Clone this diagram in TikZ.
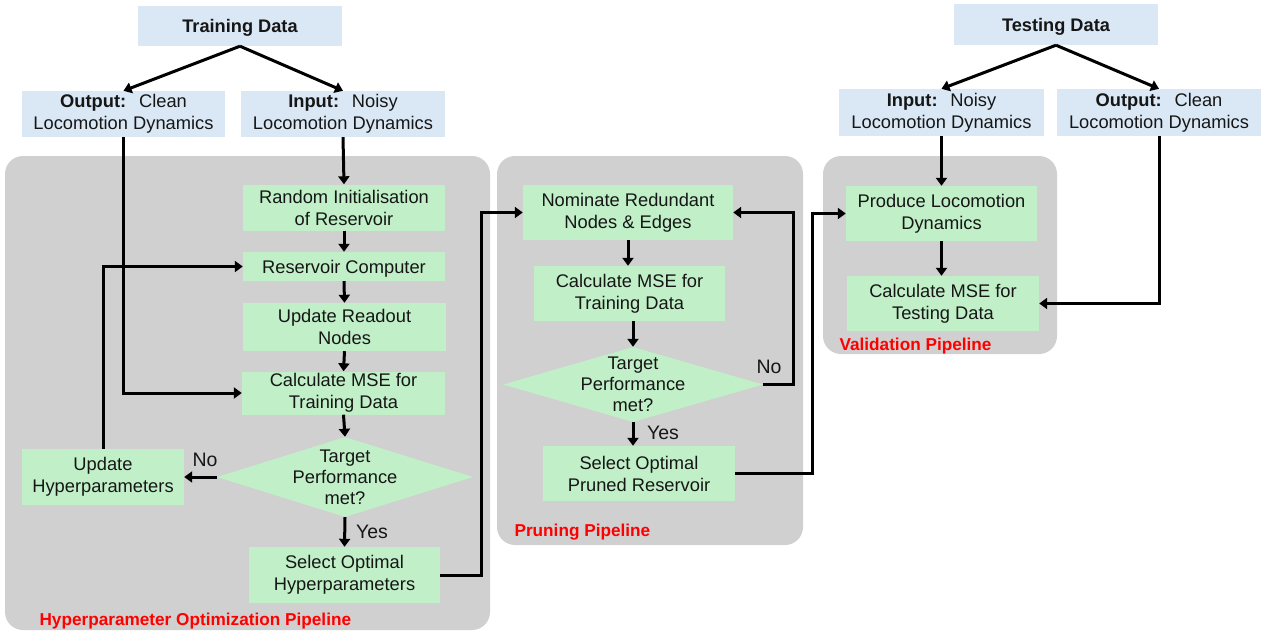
\documentclass[tikz,border=0pt]{standalone}
\usepackage{fontspec}
\setmainfont{Liberation Sans}
\usetikzlibrary{arrows.meta,shapes.geometric}
\definecolor{panelgray}{HTML}{D0D0D0}
\definecolor{boxblue}{HTML}{DAE8F6}
\definecolor{boxgreen}{HTML}{C1F0C8}
\definecolor{txt}{HTML}{161616}
\definecolor{lblred}{HTML}{FF0000}
\tikzset{
  panel/.style={fill=panelgray, draw=none, rounded corners=18pt},
  bluebox/.style={fill=boxblue, draw=none, inner sep=0pt, align=center, text=txt, font=\fontsize{18.3}{22}\selectfont},
  greenbox/.style={fill=boxgreen, draw=none, inner sep=0pt, align=center, text=txt, font=\fontsize{18.3}{22}\selectfont},
  diam/.style={diamond, fill=boxgreen, draw=none, inner sep=0pt},
  diamtext/.style={align=center, text=txt, font=\fontsize{18.3}{21}\selectfont},
  lbl/.style={text=txt, font=\fontsize{19.5}{22}\selectfont},
  redlbl/.style={text=lblred, font=\bfseries\fontsize{17.2}{20}\selectfont, anchor=west},
  conn/.style={draw=black, line width=3pt, -{Triangle[length=8pt,width=11pt]}}
}
\begin{document}
\begin{tikzpicture}[x=1pt,y=-1pt]
\useasboundingbox (0,0) rectangle (1261,635);
% panels
\fill[panel] (5,156) rectangle (490,630);
\fill[panel] (497,156) rectangle (803,545);
\fill[panel] (823,156) rectangle (1057,354);
% top data boxes
\node[bluebox, minimum width=204pt, minimum height=40pt, text depth=0pt, font=\bfseries\fontsize{18.2}{22}\selectfont] (train) at (240,26) {Training Data};
\node[bluebox, minimum width=203pt, minimum height=46pt] (outL) at (123.5,114) {\textbf{Output:}\,\, Clean\\Locomotion Dynamics};
\node[bluebox, minimum width=204pt, minimum height=46pt] (inL) at (343,114) {\textbf{Input:}\,\, Noisy\\Locomotion Dynamics};
\node[bluebox, minimum width=204pt, minimum height=41pt, text depth=0pt, font=\bfseries\fontsize{18.2}{22}\selectfont] (test) at (1056,24.5) {Testing Data};
\node[bluebox, minimum width=205pt, minimum height=47pt] (inR) at (941.5,112.5) {\textbf{Input:}\,\, Noisy\\Locomotion Dynamics};
\node[bluebox, minimum width=204pt, minimum height=47pt] (outR) at (1159,112.5) {\textbf{Output:}\,\, Clean\\Locomotion Dynamics};
% hyperparameter pipeline
\node[greenbox, minimum width=202pt, minimum height=46pt] (ri) at (344,207.5) {Random Initialisation\\of Reservoir};
\node[greenbox, minimum width=202pt, minimum height=29pt, text depth=0pt] (rc) at (344,266.5) {Reservoir Computer};
\node[greenbox, minimum width=203pt, minimum height=48pt] (ur) at (344.5,327) {Update Readout\\Nodes};
\node[greenbox, minimum width=203pt, minimum height=43pt] (cm1) at (343.5,393) {Calculate MSE for\\Training Data};
\node[diam, minimum width=256pt, minimum height=80pt] (d1) at (345,477) {};
\node[diamtext] (d1t) at (d1.center) {Target\\Performance\\met?};
\node[greenbox, minimum width=162pt, minimum height=56pt] (uh) at (103,477) {Update\\Hyperparameters};
\node[greenbox, minimum width=191pt, minimum height=56pt] (s1) at (344.5,575) {Select Optimal\\Hyperparameters};
\node[lbl] (no1) at (205,460) {No};
\node[lbl] (yes1) at (372,532) {Yes};
\node[redlbl] (l1) at (36,621) {Hyperparameter Optimization Pipeline};
% pruning pipeline
\node[greenbox, minimum width=210pt, minimum height=55pt] (nom) at (628,212.5) {Nominate Redundant\\Nodes \& Edges};
\node[greenbox, minimum width=191pt, minimum height=55pt] (cm2) at (629.5,293.5) {Calculate MSE for\\Training Data};
\node[diam, minimum width=260pt, minimum height=75pt] (d2) at (633,384.5) {};
\node[diamtext] (d2t) at (d2.center) {Target\\Performance\\met?};
\node[greenbox, minimum width=192pt, minimum height=55pt] (s2) at (639,473.5) {Select Optimal\\Pruned Reservoir};
\node[lbl] (no2) at (769,367) {No};
\node[lbl] (yes2) at (663,433) {Yes};
\node[redlbl] (l2) at (511,532) {Pruning Pipeline};
% validation pipeline
\node[greenbox, minimum width=191pt, minimum height=55pt] (prod) at (941.5,213.5) {Produce Locomotion\\Dynamics};
\node[greenbox, minimum width=192pt, minimum height=55pt] (cmT) at (943,303.5) {Calculate MSE for\\Testing Data};
\node[redlbl] (l3) at (836,346) {Validation Pipeline};
% junction coordinates
\coordinate (j1) at (481,0);
\coordinate (j2) at (793,0);
\coordinate (j3) at (812,0);
% connectors
\draw[conn] (train.south) -- (outL.north);
\draw[conn] (train.south) -- (inL.north);
\draw[conn] (test.south) -- (inR.north);
\draw[conn] (test.south) -- (outR.north);
\draw[conn] (inL.south) -- (ri.north);
\draw[conn] (ri.south) -- (rc.north);
\draw[conn] (rc.south) -- (ur.north);
\draw[conn] (ur.south) -- (cm1.north);
\draw[conn] (cm1.south) -- (d1.north);
\draw[conn] (outL.south) |- (cm1.west);
\draw[conn] (d1.west) -- (uh.east);
\draw[conn] (uh.north) |- (rc.west);
\draw[conn] (d1.south) -- (s1.north);
\draw[conn] (s1.east) -| (j1 |- nom.west) -- (nom.west);
\draw[conn] (nom.south) -- (cm2.north -| nom.south);
\draw[conn] (cm2.south -| d2.north) -- (d2.north);
\draw[conn] (d2.south) -- (s2.north -| d2.south);
\draw[conn] (d2.east) -| (j2 |- nom.east) -- (nom.east);
\draw[conn] (s2.east) -| (j3 |- prod.west) -- (prod.west);
\draw[conn] (inR.south) -- (prod.north -| inR.south);
\draw[conn] (prod.south) -- (cmT.north -| prod.south);
\draw[conn] (outR.south) |- (cmT.east);
\end{tikzpicture}
\end{document}
